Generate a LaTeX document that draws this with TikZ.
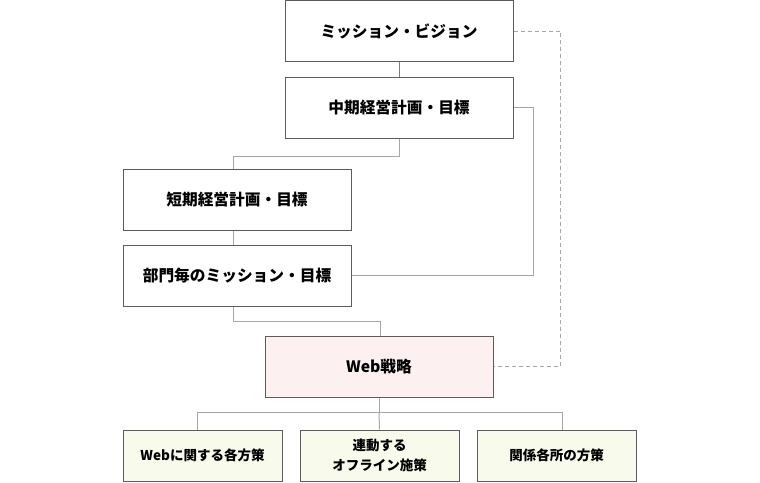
\documentclass[tikz,border=0pt]{standalone}
\usepackage{fontspec}
\setmainfont{Noto Sans CJK JP}
\definecolor{boxline}{HTML}{5C5C5C}
\definecolor{linkline}{HTML}{A6A6A6}
\definecolor{webfill}{HTML}{FDF0F0}
\definecolor{planfill}{HTML}{F8FAEC}
\begin{document}
\begin{tikzpicture}
    [x=1pt, y=-1pt,
     plan/.style={draw=boxline, line width=1pt, minimum width=228pt, minimum height=61pt,
       inner sep=0pt, font=\bfseries\fontsize{15.7}{18}\selectfont},
     measure/.style={draw=boxline, line width=1pt, fill=planfill, minimum width=159pt,
       minimum height=51pt, inner sep=0pt, align=center, font=\bfseries\fontsize{13.5}{20.5}\selectfont},
     link/.style={draw=linkline, line width=1pt},
     hint/.style={link, dash pattern=on 4pt off 3pt}]
    \useasboundingbox (0,0) rectangle (760,482);
    \node[plan] (mission) at (399,31) {ミッション・ビジョン};
    \node[plan] (mid) at (399,107.5) {中期経営計画・目標};
    \node[plan] (short) at (237,200) {短期経営計画・目標};
    \node[plan] (dept) at (237,275.5) {部門毎のミッション・目標};
    \node[plan, fill=webfill] (web) at (379,366.5) {Web戦略};
    \node[measure] (web1) at (202.5,455.5) {Webに関する各方策};
    \node[measure] (web2) at (379.5,455.5) {連動する\\オフライン施策};
    \node[measure] (web3) at (556.5,455.5) {関係各所の方策};

    \draw[link, draw=boxline!80] (mission) -- (mid);
    \draw[link] (mid.south) -- ++(0,18) -| ([xshift=-4pt]short.north);
    \draw[link] ([xshift=-4pt]short.south) -- ([xshift=-4pt]dept.north);
    \draw[link] ([xshift=-4pt]dept.south) -- ++(0,15) -| ([xshift=1pt]web.north);
    \draw[link] (mid.east) -- ++(20,0) |- (dept.east);
    \draw[hint] (mission.east) -- ++(47,0) |- (web.east);
    \draw[link] (web.south) -- ++(0,15) coordinate (fork);
    \draw[link] (fork) -| ([xshift=-5.5pt]web1.north);
    \draw[link] (fork) -- (web2.north);
    \draw[link] (fork) -| ([xshift=5.5pt]web3.north);
  \end{tikzpicture}
\end{document}
